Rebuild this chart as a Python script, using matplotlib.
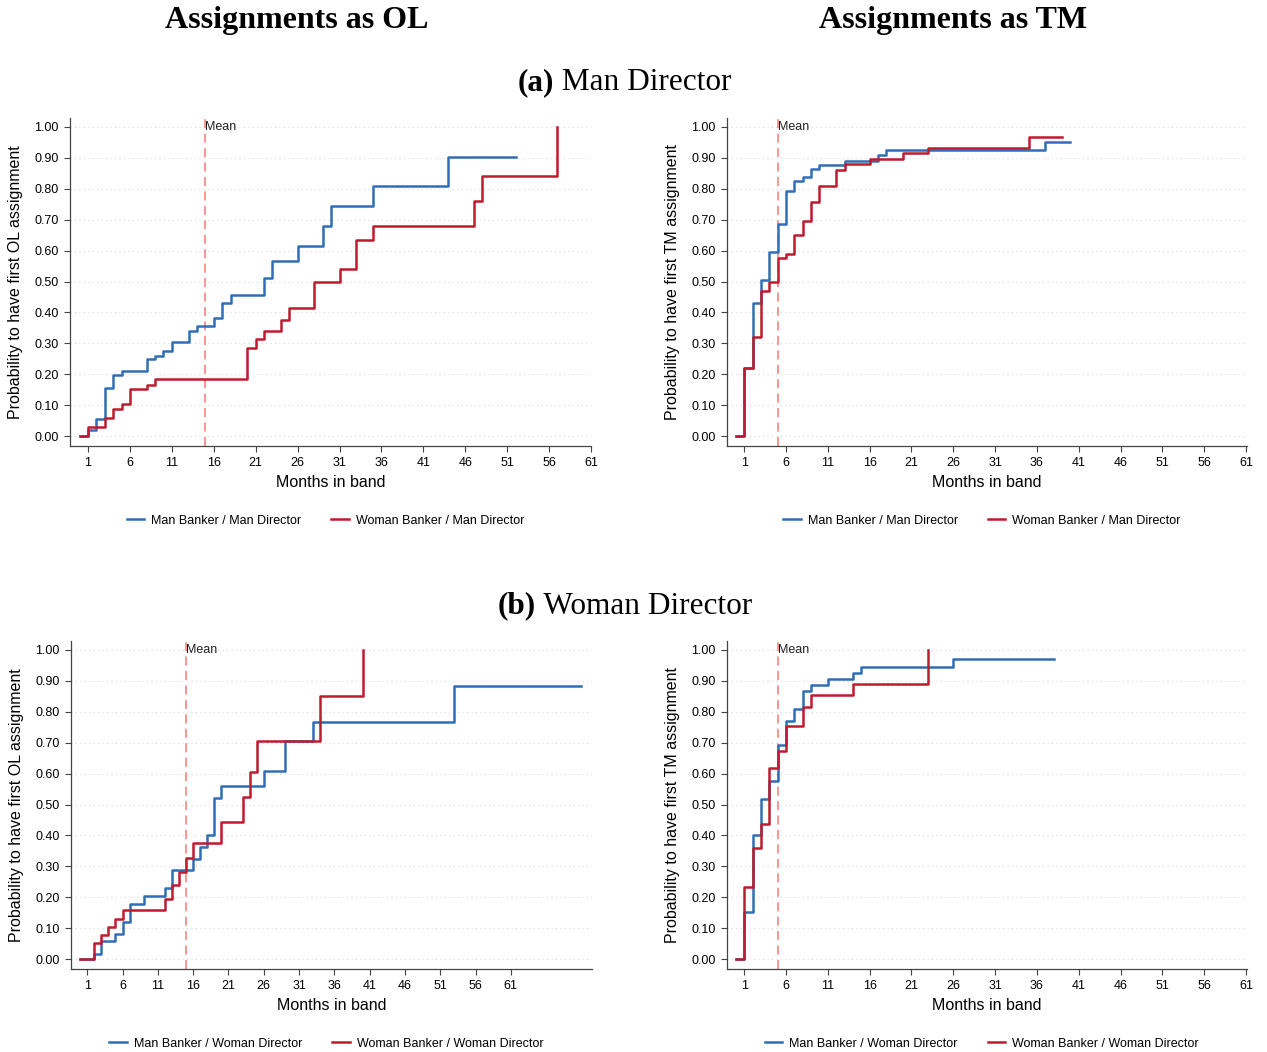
import matplotlib
matplotlib.use("Agg")
import matplotlib.pyplot as plt
from matplotlib.lines import Line2D
from matplotlib.offsetbox import TextArea, HPacker, AnchoredOffsetbox

# ---------------- data ----------------
# (a) Man Director, OL
ol_md_man_x = [0, 1, 2, 3, 4, 5, 8, 9, 10, 11, 13, 14, 16, 17, 18, 22, 23, 26, 29, 30, 35, 44, 52]
ol_md_man_y = [0, 0.019, 0.055, 0.154, 0.198, 0.21, 0.249, 0.26, 0.276, 0.305, 0.34, 0.357, 0.381,
               0.429, 0.457, 0.511, 0.568, 0.616, 0.68, 0.744, 0.809, 0.904, 0.904]
ol_md_wom_x = [0, 1, 3, 4, 5, 6, 8, 9, 20, 21, 22, 24, 25, 28, 31, 33, 35, 47, 48, 57]
ol_md_wom_y = [0, 0.03, 0.059, 0.089, 0.104, 0.151, 0.166, 0.184, 0.286, 0.313, 0.341, 0.374,
               0.413, 0.498, 0.542, 0.635, 0.68, 0.761, 0.841, 1.0]
# (a) Man Director, TM
tm_md_man_x = [0, 1, 2, 3, 4, 5, 6, 7, 8, 9, 10, 13, 17, 18, 37, 40]
tm_md_man_y = [0, 0.219, 0.43, 0.505, 0.594, 0.687, 0.792, 0.826, 0.839, 0.863, 0.876, 0.889,
               0.908, 0.927, 0.951, 0.951]
tm_md_wom_x = [0, 1, 2, 3, 4, 5, 6, 7, 8, 9, 10, 12, 13, 16, 20, 23, 35, 39]
tm_md_wom_y = [0, 0.219, 0.322, 0.47, 0.499, 0.575, 0.59, 0.651, 0.697, 0.757, 0.809, 0.862,
               0.88, 0.896, 0.915, 0.932, 0.967, 0.967]
# (b) Woman Director, OL
ol_wd_man_x = [0, 2, 3, 5, 6, 7, 9, 12, 13, 16, 17, 18, 19, 20, 26, 29, 33, 53, 71]
ol_wd_man_y = [0, 0.018, 0.059, 0.08, 0.119, 0.179, 0.203, 0.229, 0.287, 0.324, 0.362, 0.40,
               0.52, 0.559, 0.609, 0.706, 0.766, 0.883, 0.883]
ol_wd_wom_x = [0, 2, 3, 4, 5, 6, 12, 13, 14, 15, 16, 20, 23, 24, 25, 34, 40]
ol_wd_wom_y = [0, 0.051, 0.078, 0.104, 0.131, 0.159, 0.194, 0.24, 0.283, 0.326, 0.374, 0.443,
               0.524, 0.605, 0.704, 0.852, 1.0]
# (b) Woman Director, TM
tm_wd_man_x = [0, 1, 2, 3, 4, 5, 6, 7, 8, 9, 11, 14, 15, 26, 38]
tm_wd_man_y = [0, 0.151, 0.402, 0.518, 0.577, 0.693, 0.769, 0.809, 0.866, 0.886, 0.906, 0.924,
               0.944, 0.972, 0.972]
tm_wd_wom_x = [0, 1, 2, 3, 4, 5, 6, 8, 9, 14, 23]
tm_wd_wom_y = [0, 0.232, 0.36, 0.437, 0.617, 0.672, 0.755, 0.816, 0.853, 0.89, 1.0]

mean_ol_md = 15.0
mean_tm_md = 5.0
mean_ol_wd = 15.0
mean_tm_wd = 5.0

x_ticks = list(range(1, 62, 5))
y_ticks = [i / 10 for i in range(11)]

col_titles = ["Assignments as OL", "Assignments as TM"]
ylabels = ["Probability to have first OL assignment", "Probability to have first TM assignment"]
xlabel = "Months in band"
leg_md = ["Man Banker / Man Director", "Woman Banker / Man Director"]
leg_wd = ["Man Banker / Woman Director", "Woman Banker / Woman Director"]

BLUE = "#2F6EB6"
RED = "#BF1B2F"
MEANC = "#FF8A8A"
SANS = "Liberation Sans"
SERIF = "Liberation Serif"

W, H = 1267, 1052
fig = plt.figure(figsize=(W / 100, H / 100), dpi=100)


def px_axes(l, t, r, b):
    return fig.add_axes([l / W, 1 - b / H, (r - l) / W, (b - t) / H])


def panel(ax, mx, my, wx, wy, mean, ylab, legs, xmin, xmax):
    ax.set_xlim(xmin, xmax)
    ax.set_ylim(-0.032, 1.029)
    for yv in y_ticks:
        ax.axhline(yv, color="#d9d9d9", lw=0.8, ls=(0, (1, 3)), zorder=0)
    ax.step(mx, my, where="post", color=BLUE, lw=1.8, zorder=3)
    ax.step(wx, wy, where="post", color=RED, lw=1.8, zorder=4)
    ax.axvline(mean, color=MEANC, lw=1.3, ls=(0, (5, 3)), zorder=2)
    ax.text(mean, 1.0, "Mean", fontsize=9, family=SANS, ha="left", va="center", color="#222222")
    ax.set_xticks(x_ticks)
    ax.set_yticks(y_ticks)
    ax.set_yticklabels([f"{v:.2f}" for v in y_ticks])
    for s in ["top", "right"]:
        ax.spines[s].set_visible(False)
    for s in ["left", "bottom"]:
        ax.spines[s].set_color("#444444")
        ax.spines[s].set_linewidth(0.9)
    ax.tick_params(axis="both", labelsize=9, color="#444444", length=4, width=0.8, pad=4)
    for lab in ax.get_xticklabels() + ax.get_yticklabels():
        lab.set_family(SANS)
    ax.set_ylabel(ylab, fontsize=11.5, family=SANS, labelpad=8)
    ax.set_xlabel(xlabel, fontsize=11.5, family=SANS, labelpad=4)
    handles = [Line2D([], [], color=BLUE, lw=1.8), Line2D([], [], color=RED, lw=1.8)]
    ax.legend(handles, legs, loc="center", bbox_to_anchor=(0.49, -0.228), ncol=2, frameon=False,
              prop={"family": SANS, "size": 9}, handlelength=1.4, columnspacing=2.4,
              handletextpad=0.55)


ax1 = px_axes(70, 118, 591, 446)
panel(ax1, ol_md_man_x, ol_md_man_y, ol_md_wom_x, ol_md_wom_y, mean_ol_md, ylabels[0], leg_md, -1.15, 61)
ax2 = px_axes(727, 118, 1247, 446)
panel(ax2, tm_md_man_x, tm_md_man_y, tm_md_wom_x, tm_md_wom_y, mean_tm_md, ylabels[1], leg_md, -1.05, 61.1)
ax3 = px_axes(71, 641, 592, 969)
panel(ax3, ol_wd_man_x, ol_wd_man_y, ol_wd_wom_x, ol_wd_wom_y, mean_ol_wd, ylabels[0], leg_wd, -1.3, 72.5)
ax4 = px_axes(727, 641, 1247, 969)
panel(ax4, tm_wd_man_x, tm_wd_man_y, tm_wd_wom_x, tm_wd_wom_y, mean_tm_wd, ylabels[1], leg_wd, -1.05, 61.1)

# column titles
fig.text(297 / W, 1 - 28 / H, col_titles[0], fontsize=23, fontweight="bold", family=SERIF,
         ha="center", va="baseline")
fig.text(953 / W, 1 - 28 / H, col_titles[1], fontsize=23, fontweight="bold", family=SERIF,
         ha="center", va="baseline")


def section_title(y, letter, rest):
    a = TextArea(letter, textprops=dict(fontsize=22.5, fontweight="bold", family=SERIF))
    b = TextArea(rest, textprops=dict(fontsize=22.5, family=SERIF))
    box = HPacker(children=[a, b], align="baseline", pad=0, sep=0)
    anch = AnchoredOffsetbox(loc="center", child=box, frameon=False,
                             bbox_to_anchor=(625 / W, 1 - y / H), bbox_transform=fig.transFigure,
                             borderpad=0, pad=0)
    fig.add_artist(anch)


section_title(83, "(a)", " Man Director")
section_title(606, "(b)", " Woman Director")

fig.savefig("out.png", dpi=100)
